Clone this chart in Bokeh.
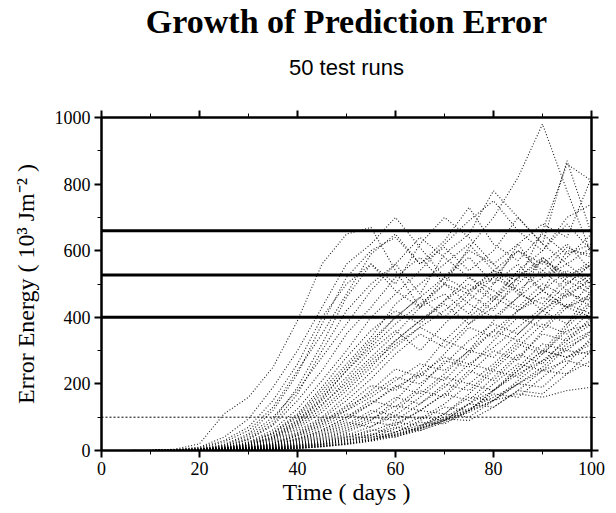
from bokeh.plotting import figure
from bokeh.models import ColumnDataSource, Span, LinearAxis, SingleIntervalTicker, Title, Range1d
from bokeh.embed import file_html
from bokeh.resources import INLINE

# sample days (every 5 days)
days = [0, 5, 10, 15, 20, 25, 30, 35, 40, 45, 50, 55, 60, 65, 70, 75, 80, 85, 90, 95, 100]

# 50 test runs: error energy (10^3 J m^-2)
early_runs = [
    [0, 0, 1, 4, 20, 110, 160, 250, 390, 560, 650, 670, 540, 430, 500, 470, 420, 520, 580, 510, 470],
    [0, 0, 1, 3, 10, 40, 95, 190, 300, 430, 560, 620, 700, 610, 520, 480, 520, 600, 560, 620, 540],
    [0, 0, 0, 2, 7, 25, 60, 130, 240, 350, 470, 590, 650, 560, 630, 730, 620, 570, 650, 590, 620],
    [0, 0, 0, 2, 8, 30, 70, 150, 260, 400, 500, 560, 480, 430, 520, 600, 560, 480, 540, 610, 580],
    [0, 0, 0, 1, 5, 18, 50, 120, 230, 380, 520, 600, 640, 560, 610, 540, 600, 700, 620, 560, 500],
    [0, 0, 0, 1, 4, 14, 38, 90, 190, 320, 460, 560, 500, 620, 700, 640, 560, 620, 520, 580, 650],
    [0, 0, 0, 1, 4, 12, 34, 80, 170, 300, 420, 500, 560, 640, 580, 520, 460, 540, 600, 680, 600],
]
mid_early_runs = [
    [0, 0, 0, 1, 5, 16, 45, 100, 180, 280, 380, 480, 560, 470, 590, 650, 780, 700, 620, 870, 650],
    [0, 0, 0, 1, 4, 12, 32, 75, 150, 240, 350, 430, 520, 580, 500, 610, 700, 820, 980, 780, 590],
    [0, 0, 0, 1, 3, 10, 26, 62, 125, 210, 300, 400, 470, 540, 620, 690, 750, 660, 600, 700, 740],
    [0, 0, 0, 1, 3, 8, 21, 52, 105, 180, 260, 340, 440, 500, 560, 620, 540, 510, 660, 860, 810],
    [0, 0, 0, 1, 2, 7, 18, 42, 88, 155, 240, 320, 400, 460, 520, 580, 500, 620, 680, 640, 820],
    [0, 0, 0, 1, 2, 6, 16, 36, 78, 135, 210, 280, 350, 430, 470, 410, 500, 560, 480, 600, 590],
    [0, 0, 0, 0, 2, 5, 13, 31, 66, 115, 180, 250, 330, 390, 450, 500, 450, 520, 570, 500, 560],
    [0, 0, 0, 1, 3, 9, 24, 55, 110, 190, 280, 360, 420, 380, 450, 520, 480, 430, 500, 460, 520],
    [0, 0, 0, 1, 3, 8, 22, 50, 100, 170, 250, 330, 400, 460, 400, 470, 540, 600, 540, 480, 430],
    [0, 0, 0, 1, 2, 7, 19, 45, 92, 160, 240, 310, 380, 440, 500, 440, 400, 460, 520, 560, 610],
    [0, 0, 0, 0, 2, 6, 17, 40, 85, 150, 220, 300, 360, 300, 380, 450, 520, 480, 420, 470, 450],
    [0, 0, 0, 0, 2, 6, 16, 38, 80, 140, 200, 270, 330, 390, 440, 380, 430, 500, 570, 530, 480],
    [0, 0, 0, 0, 2, 5, 14, 34, 72, 125, 190, 260, 320, 370, 330, 400, 460, 420, 480, 540, 500],
]
mid_runs = [
    [0, 0, 0, 0, 2, 5, 12, 28, 60, 100, 165, 235, 310, 370, 420, 480, 540, 470, 440, 520, 560],
    [0, 0, 0, 0, 1, 4, 11, 25, 54, 95, 150, 215, 290, 350, 310, 380, 450, 540, 480, 430, 500],
    [0, 0, 0, 0, 1, 4, 10, 22, 48, 86, 135, 195, 180, 240, 330, 300, 390, 460, 580, 520, 570],
    [0, 0, 0, 0, 1, 3, 9, 20, 43, 76, 120, 180, 245, 220, 290, 370, 340, 420, 480, 430, 460],
    [0, 0, 0, 0, 1, 3, 8, 18, 38, 70, 110, 90, 150, 230, 210, 290, 360, 330, 400, 470, 510],
    [0, 0, 0, 0, 1, 3, 8, 17, 35, 62, 100, 150, 130, 190, 270, 250, 330, 400, 370, 440, 410],
    [0, 0, 0, 0, 1, 3, 7, 15, 32, 56, 92, 140, 195, 170, 230, 300, 280, 350, 420, 380, 480],
    [0, 0, 0, 0, 1, 2, 6, 14, 30, 52, 85, 70, 120, 180, 160, 230, 300, 270, 360, 430, 400],
    [0, 0, 0, 0, 1, 2, 6, 13, 27, 48, 78, 120, 105, 160, 220, 200, 260, 330, 300, 380, 450],
    [0, 0, 0, 0, 1, 2, 5, 12, 25, 44, 72, 110, 160, 140, 190, 260, 240, 310, 380, 350, 420],
    [0, 0, 0, 0, 1, 2, 5, 11, 23, 40, 66, 100, 90, 140, 200, 180, 250, 320, 290, 370, 440],
    [0, 0, 0, 0, 1, 2, 5, 10, 21, 37, 60, 92, 135, 120, 170, 240, 210, 280, 350, 330, 400],
    [0, 0, 0, 0, 1, 3, 8, 20, 45, 80, 130, 170, 220, 200, 260, 330, 380, 350, 420, 480, 530],
    [0, 0, 0, 0, 1, 3, 9, 22, 50, 90, 120, 160, 210, 260, 240, 300, 360, 420, 460, 430, 470],
    [0, 0, 0, 0, 1, 2, 7, 16, 34, 60, 100, 140, 190, 230, 280, 260, 310, 370, 430, 500, 560],
]
late_runs = [
    [0, 0, 0, 0, 0, 2, 4, 9, 19, 34, 55, 85, 75, 120, 170, 150, 220, 290, 260, 340, 390],
    [0, 0, 0, 0, 0, 2, 4, 9, 17, 31, 50, 45, 80, 120, 110, 170, 240, 220, 290, 360, 380],
    [0, 0, 0, 0, 0, 1, 4, 8, 16, 28, 46, 72, 105, 95, 140, 200, 180, 250, 320, 300, 360],
    [0, 0, 0, 0, 0, 1, 3, 7, 15, 26, 42, 38, 65, 100, 90, 140, 200, 260, 240, 310, 350],
    [0, 0, 0, 0, 0, 1, 3, 7, 14, 24, 40, 62, 55, 90, 130, 120, 180, 240, 300, 280, 330],
    [0, 0, 0, 0, 0, 1, 3, 6, 13, 22, 37, 58, 85, 75, 110, 160, 150, 210, 270, 330, 380],
    [0, 0, 0, 0, 0, 1, 3, 6, 12, 20, 34, 30, 55, 85, 80, 120, 170, 160, 220, 280, 300],
    [0, 0, 0, 0, 0, 1, 2, 5, 11, 19, 32, 50, 45, 70, 110, 100, 150, 200, 190, 260, 340],
    [0, 0, 0, 0, 0, 1, 2, 5, 10, 18, 30, 46, 70, 60, 90, 140, 130, 180, 240, 230, 300],
    [0, 0, 0, 0, 0, 1, 2, 5, 9, 17, 28, 43, 40, 65, 95, 90, 130, 180, 170, 230, 270],
]
very_late_runs = [
    [0, 0, 0, 0, 0, 1, 2, 4, 8, 15, 25, 38, 55, 75, 100, 140, 180, 230, 270, 300, 290],
    [0, 0, 0, 0, 0, 1, 2, 4, 7, 13, 22, 34, 50, 70, 95, 125, 160, 200, 240, 270, 250],
    [0, 0, 0, 0, 0, 0, 1, 3, 6, 12, 20, 30, 45, 65, 90, 120, 150, 170, 160, 180, 190],
    [0, 0, 0, 0, 0, 1, 2, 3, 7, 12, 20, 32, 48, 68, 90, 120, 180, 240, 300, 280, 320],
    [0, 0, 0, 0, 0, 0, 1, 3, 6, 11, 18, 28, 42, 60, 85, 115, 150, 200, 250, 320, 360],
]

thresholds = [660, 527, 400]
reference_level = 100

x_ticks_interval = 20
y_ticks_interval = 200

runs = early_runs + mid_early_runs + mid_runs + late_runs + very_late_runs
source = ColumnDataSource(dict(xs=[days] * len(runs), ys=runs))

SERIF = "Liberation Serif"

p = figure(width=616, height=513, output_backend="svg", toolbar_location=None,
           x_range=Range1d(0, 100), y_range=Range1d(0, 1000),
           min_border_left=101, min_border_right=25, min_border_top=117, min_border_bottom=63,
           background_fill_color="white", border_fill_color="white")

p.xgrid.visible = False
p.ygrid.visible = False
p.outline_line_color = "black"
p.outline_line_width = 2

p.multi_line(xs="xs", ys="ys", source=source, line_color="black", line_width=1.1,
             line_dash="1 2", line_alpha=0.9)

for t in thresholds:
    p.add_layout(Span(location=t, dimension="width", line_color="black", line_width=3))
p.add_layout(Span(location=reference_level, dimension="width", line_color="black",
                  line_width=1, line_dash="2 2"))

def style_axis(ax, show_labels=True):
    ax.axis_line_color = "black"
    ax.axis_line_width = 2
    ax.major_tick_out = 7
    ax.major_tick_in = 0
    ax.minor_tick_out = 4
    ax.minor_tick_in = 0
    ax.major_tick_line_width = 2
    ax.minor_tick_line_width = 1
    ax.major_label_text_font = SERIF
    ax.major_label_text_font_size = "18px"
    ax.major_label_text_color = "black" if show_labels else None
    ax.axis_label_text_font = SERIF
    ax.axis_label_text_font_size = "24px"
    ax.axis_label_text_font_style = "normal"
    ax.axis_label_text_color = "black"

p.xaxis.ticker = SingleIntervalTicker(interval=x_ticks_interval, num_minor_ticks=2)
p.yaxis.ticker = SingleIntervalTicker(interval=y_ticks_interval, num_minor_ticks=2)
style_axis(p.xaxis[0])
style_axis(p.yaxis[0])
p.xaxis.axis_label = "Time ( days )"
p.yaxis.axis_label = "Error Energy ( 10³ Jm⁻² )"
p.xaxis.major_label_standoff = 4
p.yaxis.major_label_standoff = 4
p.xaxis.axis_label_standoff = 1
p.yaxis.axis_label_standoff = 13

top_axis = LinearAxis(ticker=SingleIntervalTicker(interval=x_ticks_interval, num_minor_ticks=2))
style_axis(top_axis, show_labels=False)
top_axis.major_label_text_font_size = "1px"
p.add_layout(top_axis, "above")

right_axis = LinearAxis(ticker=SingleIntervalTicker(interval=y_ticks_interval, num_minor_ticks=2))
style_axis(right_axis, show_labels=False)
right_axis.major_label_text_font_size = "1px"
p.add_layout(right_axis, "right")

p.add_layout(Title(text="50 test runs", text_font="Liberation Sans", text_font_size="22px",
                   text_font_style="normal", text_color="black", align="center",
                   standoff=62), "above")
p.add_layout(Title(text="Growth of Prediction Error", text_font=SERIF, text_font_size="34px",
                   text_font_style="bold", text_color="black", align="center",
                   standoff=-36), "above")

open("out.html", "w").write(file_html(p, INLINE))
